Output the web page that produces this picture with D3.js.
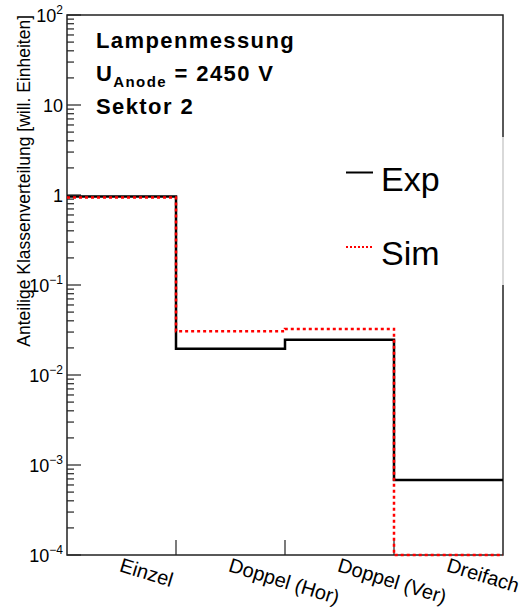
<!DOCTYPE html>
<html>
<head>
<meta charset="utf-8">
<script src="https://cdn.jsdelivr.net/npm/d3@7"></script>
<style>
  body { margin: 0; background: #fff; }
  text { font-family: "Liberation Sans", Arial, sans-serif; }
</style>
</head>
<body>
<div id="chart"></div>
<script>
// bins and values
const categories = ["Einzel", "Doppel (Hor)", "Doppel (Ver)", "Dreifach"];
const expValues = [0.96, 0.0196, 0.0247, 0.00068];
const simValues = [0.94, 0.0306, 0.0325, 0];
const decades = [-4, -3, -2, -1, 0, 1, 2];

const width = 529, height = 609;
const margin = { left: 67, right: 26, top: 15, bottom: 54 };

const svg = d3.select("#chart").append("svg")
  .attr("width", width)
  .attr("height", height);

const x = d3.scaleBand()
  .domain(categories)
  .range([margin.left, width - margin.right])
  .paddingInner(0).paddingOuter(0);

const y = d3.scaleLog()
  .domain([1e-4, 1e2])
  .range([height - margin.bottom, margin.top])
  .clamp(true);

const yBottom = y(1e-4), yTop = y(1e2);
const xLeft = margin.left, xRight = width - margin.right;

// step outline without the outer verticals (like ROOT)
function stepPath(values) {
  const p = d3.path();
  values.forEach((v, i) => {
    const x0 = x(categories[i]), x1 = x0 + x.bandwidth();
    const yy = y(v > 0 ? v : 1e-4);
    if (i === 0) p.moveTo(x0, yy);
    else p.lineTo(x0, yy);
    p.lineTo(x1, yy);
  });
  return p.toString();
}

// frame
svg.append("rect")
  .attr("x", xLeft).attr("y", yTop)
  .attr("width", xRight - xLeft).attr("height", yBottom - yTop)
  .attr("fill", "none").attr("stroke", "#222").attr("stroke-width", 1.5);

// y ticks (log, minor 2..9)
const yTicks = svg.append("g");
decades.forEach((d, i) => {
  const v = Math.pow(10, d);
  yTicks.append("line")
    .attr("x1", xLeft).attr("x2", xLeft + 14)
    .attr("y1", y(v)).attr("y2", y(v))
    .attr("stroke", "#222").attr("stroke-width", 1.2);
  if (i < decades.length - 1) {
    for (let m = 2; m <= 9; m++) {
      yTicks.append("line")
        .attr("x1", xLeft).attr("x2", xLeft + 7)
        .attr("y1", y(m * v)).attr("y2", y(m * v))
        .attr("stroke", "#222").attr("stroke-width", 1.2);
    }
  }
  const lbl = yTicks.append("text")
    .attr("x", xLeft - 4).attr("y", y(v) + 6.5)
    .attr("text-anchor", "end")
    .attr("font-size", 18);
  if (d === 0) lbl.text("1");
  else if (d === 1) lbl.text("10");
  else {
    lbl.append("tspan").text("10");
    lbl.append("tspan").attr("dy", -8).attr("font-size", 12)
      .text(d < 0 ? "\u2212" + (-d) : String(d));
  }
});

// x ticks at bin edges
categories.slice(1).forEach((c) => {
  svg.append("line")
    .attr("x1", x(c)).attr("x2", x(c))
    .attr("y1", yBottom).attr("y2", yBottom - 15)
    .attr("stroke", "#222").attr("stroke-width", 1.2);
});

// x labels, rotated
categories.forEach((c) => {
  const cx = x(c) + x.bandwidth() / 2;
  svg.append("text")
    .attr("transform", `translate(${cx - 3},${yBottom + 16}) rotate(17)`)
    .attr("font-size", 20)
    .text(c);
});

// y axis title
svg.append("text")
  .attr("transform", `translate(30,${yTop}) rotate(-90)`)
  .attr("text-anchor", "end")
  .attr("font-size", 17.5)
  .text("Anteilige Klassenverteilung [will. Einheiten]");

// histograms
svg.append("path")
  .attr("d", stepPath(expValues))
  .attr("fill", "none").attr("stroke", "#000").attr("stroke-width", 2.5);
svg.append("path")
  .attr("d", stepPath(simValues))
  .attr("fill", "none").attr("stroke", "#ff0000").attr("stroke-width", 2.5)
  .attr("stroke-dasharray", "3,3");

// legend box (white, covers the frame)
svg.append("rect")
  .attr("x", 330).attr("y", 137)
  .attr("width", 180).attr("height", 148)
  .attr("fill", "#fff");
svg.append("line")
  .attr("x1", xRight).attr("x2", xRight).attr("y1", 137).attr("y2", 285)
  .attr("stroke", "#ccc").attr("stroke-width", 1.5);
const legend = [
  { name: "Exp", color: "#000", dash: null, y: 172.5 },
  { name: "Sim", color: "#ff0000", dash: "2,2", y: 247 }
];
legend.forEach((l) => {
  svg.append("line")
    .attr("x1", 346).attr("x2", 373)
    .attr("y1", l.y).attr("y2", l.y)
    .attr("stroke", l.color).attr("stroke-width", 2)
    .attr("stroke-dasharray", l.dash);
  svg.append("text")
    .attr("x", 381).attr("y", l.y + 18)
    .attr("font-size", 34)
    .text(l.name);
});

// info text
const info = svg.append("g").attr("font-weight", "bold").attr("font-size", 22)
  .attr("letter-spacing", 1.4);
info.append("text").attr("x", 96).attr("y", 48).text("Lampenmessung");
const u = info.append("text").attr("x", 96).attr("y", 81);
u.append("tspan").text("U");
u.append("tspan").attr("dy", 6).attr("font-size", 15).text("Anode");
u.append("tspan").attr("dy", -6).text(" = 2450 V");
info.append("text").attr("x", 96).attr("y", 114).text("Sektor 2");
</script>
</body>
</html>
